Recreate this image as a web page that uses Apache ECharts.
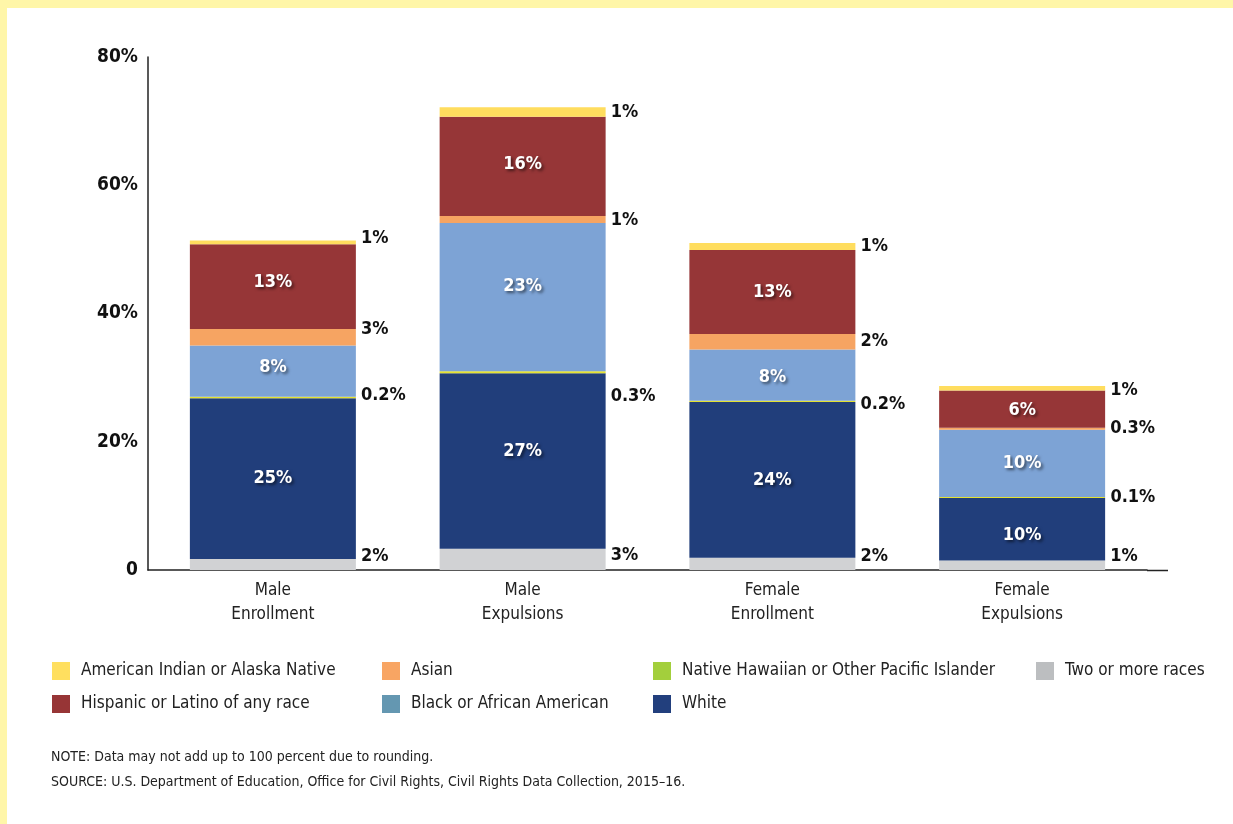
<!DOCTYPE html>
<html>
<head>
<meta charset="utf-8">
<script src="https://cdn.jsdelivr.net/npm/echarts@6/dist/echarts.min.js"></script>
<style>
html,body{margin:0;padding:0;background:#fff;}
#chart{width:1233px;height:824px;}
</style>
</head>
<body>
<div id="chart"></div>
<script>
// ---- data ----
const categories = ['Male\nEnrollment', 'Male\nExpulsions', 'Female\nEnrollment', 'Female\nExpulsions'];
const seriesNames = ['Two or more races', 'White', 'Native Hawaiian or Other Pacific Islander', 'Black or African American', 'Asian', 'Hispanic or Latino of any race', 'American Indian or Alaska Native'];
const twoOrMore = [1.7, 3.3, 1.9, 1.49];
const white = [25.1, 27.4, 24.3, 9.8];
const nhpi = [0.2, 0.3, 0.2, 0.1];
const black = [8.0, 23.1, 8.0, 10.49];
const asian = [2.6, 1.1, 2.4, 0.3];
const hispanic = [13.2, 15.5, 13.1, 5.8];
const aian = [0.6, 1.45, 1.1, 0.7];
const yTicks = [0, 20, 40, 60, 80];
const noteLines = ['NOTE: Data may not add up to 100 percent due to rounding.',
  'SOURCE: U.S. Department of Education, Office for Civil Rights, Civil Rights Data Collection, 2015\u201316.'];

// ---- styling ----
const FONT = "'Liberation Sans Narrow', 'DejaVu Sans Condensed', 'Liberation Sans', sans-serif";
const barColors = ['#D1D2D4', '#213E7B', '#E4E232', '#7DA3D5', '#F6A462', '#963637', '#FFDD5E'];
const legendColors = ['#BCBEC0', '#223F7D', '#A3CF3C', '#6497B1', '#F8A563', '#973536', '#FFDF5F'];
const insideSeries = {1: true, 3: true, 5: true};
// vertical nudges of labels (px), per series, per category
const labelNudge = [
  [-8, -4, -8, -9],
  [0, -10, 0, 6],
  [-2, 24, 3, 0],
  [-4, -11, 2, 0],
  [-8, 1, 0, 0],
  [-4, -2, 0, 1],
  [-4, 0, 0, 2]
];
const values = [twoOrMore, white, nhpi, black, asian, hispanic, aian];

function fmt(v) { return v < 0.5 ? v.toFixed(1) + '%' : Math.round(v) + '%'; }

const series = seriesNames.map((name, si) => ({
  name: name,
  type: 'bar',
  stack: 'total',
  barWidth: 166,
  itemStyle: si === 2 ? { color: barColors[si], borderColor: barColors[si], borderWidth: 1.2 } : { color: barColors[si] },
  emphasis: { disabled: true },
  data: values[si].map((v, ci) => ({
    value: v,
    label: insideSeries[si] ? {
      show: true, position: 'inside', offset: [0, labelNudge[si][ci]],
      formatter: fmt(v), color: '#fff', fontFamily: FONT, fontWeight: 'bold', fontSize: 18,
      textShadowColor: 'rgba(0,0,0,0.55)', textShadowBlur: 3, textShadowOffsetX: 2, textShadowOffsetY: 2
    } : {
      show: true, position: 'right', distance: 5, offset: [0, labelNudge[si][ci]],
      formatter: fmt(v), color: '#111', fontFamily: FONT, fontWeight: 'bold', fontSize: 18
    }
  }))
}));

function legendFor(idxs, left) {
  return {
    orient: 'vertical', left: left, top: 657, itemWidth: 18, itemHeight: 18, itemGap: 15,
    icon: 'rect', selectedMode: false,
    textStyle: { fontFamily: FONT, fontSize: 17, color: '#222', padding: [0, 0, 0, 6] },
    data: idxs.map(i => ({ name: seriesNames[i], itemStyle: { color: legendColors[i], borderWidth: 0 } }))
  };
}

const chart = echarts.init(document.getElementById('chart'), null, { renderer: 'canvas' });
chart.setOption({
  animation: false,
  backgroundColor: '#fff',
  grid: { left: 148, top: 57, width: 999, bottom: 254, containLabel: false },
  xAxis: {
    type: 'category', data: categories,
    axisLine: { lineStyle: { color: '#222', width: 1.5 } },
    axisTick: { show: false },
    axisLabel: { fontFamily: FONT, fontSize: 17, color: '#222', lineHeight: 24, margin: 9 }
  },
  yAxis: {
    type: 'value', min: yTicks[0], max: yTicks[yTicks.length - 1], interval: 20,
    axisLine: { show: true, lineStyle: { color: '#222', width: 1.5 } },
    axisTick: { show: false },
    splitLine: { show: false },
    axisLabel: { fontFamily: FONT, fontSize: 19, fontWeight: 'bold', color: '#111', margin: 10,
      formatter: v => v === 0 ? '0' : v + '%' }
  },
  legend: [legendFor([6, 5], 47), legendFor([4, 3], 377), legendFor([2, 1], 648), legendFor([0], 1031)],
  series: series,
  graphic: [
    { type: 'rect', left: 0, top: 0, shape: { width: 1233, height: 8 }, style: { fill: '#FFF6A8' }, silent: true },
    { type: 'rect', left: 0, top: 0, shape: { width: 7, height: 824 }, style: { fill: '#FFF6A8' }, silent: true },
    { type: 'line', shape: { x1: 1147, y1: 570.5, x2: 1168, y2: 570.5 }, style: { stroke: '#222', lineWidth: 1.5 }, silent: true },
    { type: 'text', left: 51, top: 750, style: { text: noteLines[0], font: '14px ' + FONT, fill: '#222' } },
    { type: 'text', left: 51, top: 775, style: { text: noteLines[1], font: '14px ' + FONT, fill: '#222' } }
  ]
});
</script>
</body>
</html>
